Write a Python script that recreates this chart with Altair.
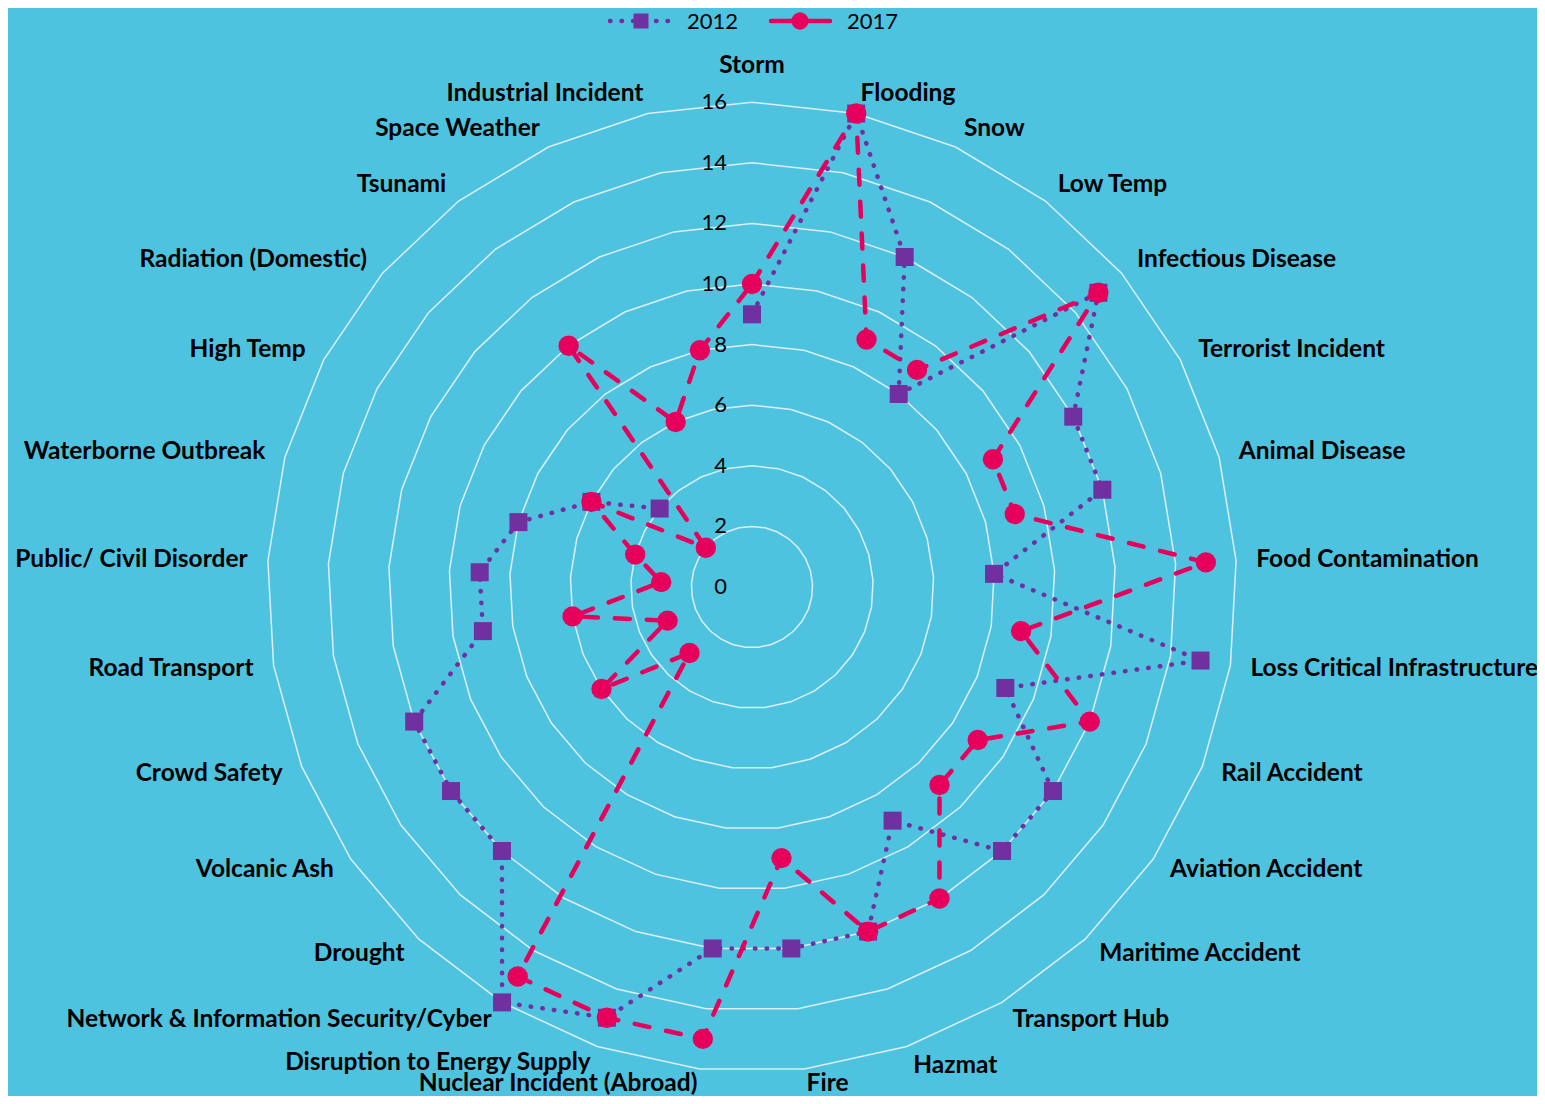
import altair as alt
import pandas as pd

categories = ["Storm", "Flooding", "Snow", "Low Temp", "Infectious Disease",
              "Terrorist Incident", "Animal Disease", "Food Contamination",
              "Loss Critical Infrastructure", "Rail Accident", "Aviation Accident",
              "Maritime Accident", "Transport Hub", "Hazmat", "Fire",
              "Nuclear Incident (Abroad)", "Disruption to Energy Supply",
              "Network & Information Security/Cyber", "Drought", "Volcanic Ash",
              "Crowd Safety", "Road Transport", "Public/ Civil Disorder",
              "Waterborne Outbreak", "High Temp", "Radiation (Domestic)",
              "Tsunami", "Space Weather", "Industrial Incident"]
values_2012 = [9, 16, 12, 8, 15, 12, 12, 8, 15, 9, 12, 12, 9, 12, 12, 12, 15, 16,
               12, 12, 12, 9, 9, 8, 6, 4, None, None, None]
values_2017 = [10, 16, 9, 9, 15, 9, 9, 15, 9, 12, 9, 9, 12, 12, 9, 15, 15, 15,
               3, 6, 3, 6, 3, 4, 6, 2, 10, 6, 8]
series_names = ["2012", "2017"]
tick_values = [0, 2, 4, 6, 8, 10, 12, 14, 16]

# ---- styling / layout constants ----
N = len(categories)
UNIT = 30.3
W, H = 1529, 1088
CX, CY = 744, 579
LABEL_R = 16.67
BG = "#4EC3E0"
GRID = "#DCEEF8"
PURPLE = "#7030A0"
PINK = "#E6005C"
FONT = "Lato"
LFS = 24.5

xs = alt.Scale(domain=[-CX / UNIT, (W - CX) / UNIT], nice=False, zero=False)
ys = alt.Scale(domain=[-(H - CY) / UNIT, CY / UNIT], nice=False, zero=False)
X = alt.X("px:Q", scale=xs, axis=None)
Y = alt.Y("py:Q", scale=ys, axis=None)

ang = f"2*PI*datum.idx/{N}"

# series table (closing point appended)
rows = []
for name, vals in zip(series_names, [values_2012, values_2017]):
    seg = 0
    for k in range(N + 1):
        v = vals[k % N]
        if v is None:
            seg += 1
        rows.append({"series": name, "idx": k, "value": v, "seg": seg})
df = pd.DataFrame(rows)

grid_rows = [{"ring": t, "idx": k} for t in tick_values[1:] for k in range(N + 1)]
grid_df = pd.DataFrame(grid_rows)
tick_df = pd.DataFrame({"value": tick_values})
lab_df = pd.DataFrame({"category": categories, "idx": list(range(N))})

grid = alt.Chart(grid_df).transform_calculate(
    px=f"datum.ring*sin({ang})", py=f"datum.ring*cos({ang})"
).mark_line(color=GRID, strokeWidth=1.5).encode(
    x=X, y=Y, detail="ring:N", order="idx:Q")


def series_layers(name, color, dash, shape, size, width, cap):
    base = alt.Chart(df).transform_filter(
        f"datum.series=='{name}' && isValid(datum.value)"
    ).transform_calculate(
        px=f"datum.value*sin({ang})", py=f"datum.value*cos({ang})")
    line = base.mark_line(color=color, strokeWidth=width, strokeDash=dash,
                          strokeCap=cap, strokeJoin="round").encode(
        x=X, y=Y, detail="seg:N", order="idx:Q")
    pts = base.transform_filter(f"datum.idx < {N}").mark_point(
        shape=shape, size=size, filled=True, color=color, opacity=1).encode(x=X, y=Y)
    return line, pts


l12, p12 = series_layers("2012", PURPLE, [0.5, 11.2], "square", 324, 4.5, "round")
l17, p17 = series_layers("2017", PINK, [15, 17], "circle", 415, 4.5, "round")

ticks = alt.Chart(tick_df).transform_calculate(px="0", py="datum.value").mark_text(
    align="right", baseline="middle", dx=-25, font=FONT, fontSize=22, color="black"
).encode(x=X, y=Y, text="value:Q")

# labels: the bottom-most ones are nudged up slightly so they stay inside the page
lab_base = alt.Chart(lab_df).transform_calculate(
    px=f"{LABEL_R}*sin({ang})",
    py=(f"{LABEL_R}*cos({ang}) + ((datum.idx == 14 || datum.idx == 15) ? 0.17 : "
        "(datum.idx == 16 ? 0.1 : 0))"))
lab_top = lab_base.transform_filter("datum.idx == 0").mark_text(
    align="center", baseline="middle", dy=-16, font=FONT, fontSize=LFS,
    fontWeight="bold", color="black").encode(x=X, y=Y, text="category:N")
lab_right = lab_base.transform_filter(f"datum.idx > 0 && datum.idx <= {N // 2}").mark_text(
    align="left", baseline="middle", font=FONT, fontSize=LFS,
    fontWeight="bold", color="black").encode(x=X, y=Y, text="category:N")
lab_left = lab_base.transform_filter(f"datum.idx > {N // 2}").mark_text(
    align="right", baseline="middle", font=FONT, fontSize=LFS,
    fontWeight="bold", color="black").encode(x=X, y=Y, text="category:N")

# legend (manual)
leg_df = pd.DataFrame({"series": series_names})
LY = 13
leg_line12 = alt.Chart(leg_df).transform_filter("datum.series=='2012'").mark_rule(
    color=PURPLE, strokeWidth=4.5, strokeDash=[0.5, 11], strokeCap="round").encode(
    x=alt.value(602), x2=alt.value(666), y=alt.value(LY))
leg_pt12 = alt.Chart(leg_df).transform_filter("datum.series=='2012'").mark_point(
    shape="square", size=225, filled=True, color=PURPLE, opacity=1).encode(
    x=alt.value(633), y=alt.value(LY))
leg_line17 = alt.Chart(leg_df).transform_filter("datum.series=='2017'").mark_rule(
    color=PINK, strokeWidth=4.5, strokeCap="round").encode(
    x=alt.value(763), x2=alt.value(822), y=alt.value(LY))
leg_pt17 = alt.Chart(leg_df).transform_filter("datum.series=='2017'").mark_point(
    shape="circle", size=300, filled=True, color=PINK, opacity=1).encode(
    x=alt.value(792), y=alt.value(LY))
leg_txt12 = alt.Chart(leg_df).transform_filter("datum.series=='2012'").mark_text(
    align="left", baseline="middle", font=FONT, fontSize=22, color="black").encode(
    x=alt.value(679), y=alt.value(LY + 1), text="series:N")
leg_txt17 = alt.Chart(leg_df).transform_filter("datum.series=='2017'").mark_text(
    align="left", baseline="middle", font=FONT, fontSize=22, color="black").encode(
    x=alt.value(839), y=alt.value(LY + 1), text="series:N")

chart = alt.layer(
    grid, ticks, l12, p12, l17, p17, lab_top, lab_right, lab_left,
    leg_line12, leg_pt12, leg_line17, leg_pt17, leg_txt12, leg_txt17
).properties(
    width=W, height=H, background=BG,
    autosize=alt.AutoSizeParams(type="none"), padding=0
).configure_view(stroke=None)

chart.save("out.html", embed_options={"renderer": "svg", "actions": False})
